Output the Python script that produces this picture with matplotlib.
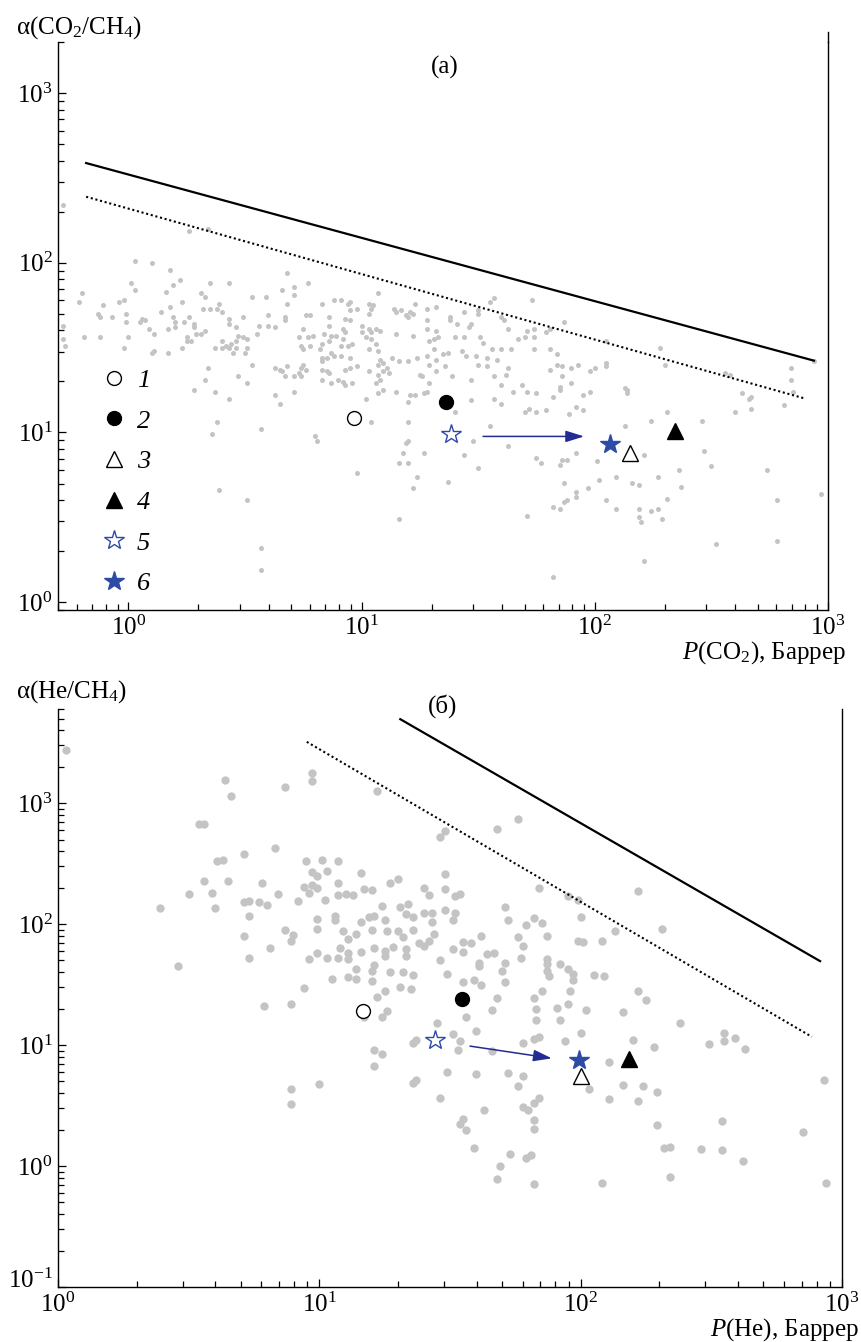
import numpy as np
import matplotlib
matplotlib.use('Agg')
import matplotlib.pyplot as plt
from matplotlib.lines import Line2D
from matplotlib.transforms import ScaledTranslation
from matplotlib.ticker import LogLocator, NullFormatter, LogFormatterMathtext

plt.rcParams['font.family'] = ['Liberation Serif', 'DejaVu Serif']
plt.rcParams['mathtext.fontset'] = 'custom'
plt.rcParams['mathtext.rm'] = 'Liberation Serif'
plt.rcParams['mathtext.it'] = 'Liberation Serif:italic'
plt.rcParams['mathtext.bf'] = 'Liberation Serif:bold'

# ---- data: literature points, (log10 P, log10 alpha) ----
co2_lit = np.array([
    (-0.28, 2.34), (0.26, 2.19), (0.34, 2.20),
    (0.03, 2.01), (0.10, 2.00), (0.18, 1.96), (0.22, 1.90), (0.19, 1.87), (0.16, 1.83), (0.01, 1.88),
    (0.03, 1.84), (-0.20, 1.82), (-0.21, 1.77), (-0.04, 1.77), (-0.02, 1.78), (-0.11, 1.75), (-0.13, 1.70),
    (-0.12, 1.68), (-0.07, 1.68), (-0.01, 1.70), (-0.01, 1.65), (0.06, 1.67), (0.07, 1.66), (0.05, 1.65),
    (0.09, 1.61), (0.11, 1.58), (0.14, 1.71), (0.18, 1.74), (0.23, 1.77), (0.19, 1.68), (0.24, 1.65),
    (0.26, 1.68), (0.20, 1.65), (0.17, 1.61), (0.20, 1.62), (0.28, 1.64), (0.28, 1.62), (0.29, 1.58),
    (0.25, 1.56), (0.27, 1.54), (0.31, 1.58), (0.33, 1.60), (0.31, 1.82), (0.33, 1.80), (0.35, 1.88),
    (0.43, 1.88), (0.32, 1.73), (0.35, 1.73), (0.38, 1.73), (0.39, 1.76), (0.40, 1.71), (0.43, 1.67),
    (0.43, 1.64), (0.46, 1.62), (0.49, 1.68), (0.53, 1.80), (0.59, 1.80), (0.47, 1.57), (0.49, 1.56),
    (0.51, 1.55), (0.46, 1.54), (0.44, 1.52), (0.42, 1.51), (0.40, 1.54), (0.37, 1.50), (0.40, 1.50),
    (0.43, 1.50), (0.46, 1.50), (0.45, 1.47), (0.50, 1.47), (0.51, 1.50), (0.55, 1.58), (0.56, 1.63),
    (0.60, 1.69), (0.60, 1.63), (0.63, 1.62), (0.67, 1.68), (0.67, 1.66), (0.68, 1.76), (0.66, 1.84),
    (0.71, 1.86), (0.71, 1.81), (0.68, 1.94), (0.77, 1.88), (0.76, 1.69), (0.78, 1.69), (0.75, 1.61),
    (0.73, 1.56), (0.77, 1.56), (0.79, 1.57), (0.74, 1.51), (0.75, 1.49), (0.78, 1.51), (0.83, 1.76),
    (0.88, 1.78), (0.91, 1.78), (0.94, 1.76), (0.95, 1.77), (0.98, 1.73), (0.95, 1.72), (0.86, 1.68),
    (0.93, 1.67), (0.95, 1.66), (0.86, 1.63), (0.84, 1.58), (0.87, 1.57), (0.89, 1.57), (0.92, 1.61),
    (0.93, 1.59), (0.92, 1.55), (0.96, 1.52), (0.94, 1.51), (0.86, 1.54), (0.83, 1.52), (0.82, 1.49),
    (0.87, 1.47), (0.85, 1.44), (0.83, 1.44), (0.83, 1.42), (0.88, 1.45), (0.91, 1.45), (0.95, 1.44),
    (0.91, 1.51), (1.03, 1.76), (1.04, 1.73), (1.05, 1.75), (1.03, 1.70), (1.07, 1.82), (1.00, 1.63),
    (1.03, 1.61), (1.04, 1.59), (1.06, 1.61), (1.08, 1.60), (1.00, 1.59), (1.02, 1.56), (1.04, 1.55),
    (1.06, 1.52), (1.03, 1.49), (1.07, 1.48), (1.08, 1.43), (1.09, 1.41), (1.07, 1.40), (1.14, 1.73),
    (1.15, 1.71), (1.17, 1.72), (1.19, 1.69), (1.20, 1.68), (1.21, 1.71), (1.22, 1.70), (1.23, 1.76),
    (1.28, 1.73), (1.32, 1.74), (1.28, 1.66), (1.28, 1.61), (1.31, 1.55), (1.33, 1.56), (1.32, 1.60),
    (1.29, 1.54), (1.15, 1.58), (1.22, 1.57), (1.13, 1.44), (1.16, 1.42), (1.20, 1.42), (1.24, 1.44),
    (1.28, 1.45), (1.31, 1.49), (1.32, 1.43), (1.35, 1.46),
    (0.63, 1.38), (0.65, 1.37), (0.66, 1.36), (0.68, 1.39), (0.67, 1.33), (0.71, 1.33), (0.73, 1.35),
    (0.74, 1.38), (0.76, 1.37), (0.74, 1.33), (0.75, 1.40), (0.83, 1.37), (0.85, 1.36), (0.86, 1.35),
    (0.83, 1.31), (0.87, 1.29), (0.90, 1.31), (0.92, 1.30), (0.93, 1.28), (0.96, 1.29), (0.93, 1.37),
    (0.95, 1.38), (0.98, 1.39), (1.03, 1.36), (1.07, 1.34), (1.09, 1.36), (1.11, 1.38), (1.12, 1.35),
    (1.08, 1.31), (1.06, 1.29), (1.09, 1.25), (1.15, 1.24), (1.21, 1.22), (1.23, 1.22), (1.27, 1.23),
    (1.28, 1.24), (1.25, 1.34), (1.26, 1.33), (1.29, 1.29), (1.32, 1.36), (1.29, 1.40), (1.36, 1.39),
    (0.34, 1.38), (0.33, 1.31), (0.28, 1.25), (0.37, 1.24), (0.43, 1.20), (0.47, 1.33), (0.51, 1.29),
    (0.53, 1.40), (0.63, 1.22), (0.65, 1.17), (0.71, 1.24), (1.02, 1.20), (1.07, 1.23), (1.20, 1.18),
    (-0.28, 1.63), (-0.28, 1.55), (-0.27, 1.51), (-0.19, 1.56), (-0.12, 1.56), (-0.02, 1.50), (0.00, 1.56),
    (0.10, 1.47), (0.11, 1.48), (0.17, 1.47), (0.23, 1.50), (0.25, 1.54),
    (0.38, 1.06), (0.36, 0.99), (0.57, 1.02), (0.80, 0.98), (0.81, 0.95), (1.04, 1.06), (0.98, 0.76),
    (1.20, 1.06), (1.20, 0.95), (1.19, 0.94), (1.18, 0.88), (1.16, 0.82), (1.20, 0.82), (1.24, 0.74),
    (1.22, 0.67), (1.27, 0.88), (1.16, 0.49), (0.39, 0.66), (0.51, 0.60), (0.57, 0.32), (0.57, 0.19),
    (1.38, 1.68), (1.38, 1.66), (1.41, 1.64), (1.44, 1.71), (1.46, 1.62), (1.47, 1.64), (1.50, 1.72),
    (1.50, 1.70), (1.55, 1.77), (1.57, 1.79), (1.73, 1.78), (1.61, 1.66), (1.63, 1.61), (1.60, 1.68),
    (1.67, 1.55), (1.70, 1.56), (1.71, 1.60), (1.74, 1.61), (1.74, 1.56), (1.79, 1.59), (1.81, 1.61),
    (1.87, 1.65), (2.05, 1.54), (2.28, 1.50), (2.30, 1.40), (1.40, 1.56), (1.44, 1.56), (1.51, 1.56),
    (1.52, 1.53), (1.37, 1.47), (1.43, 1.48), (1.45, 1.45), (1.49, 1.45), (1.54, 1.44), (1.56, 1.49),
    (1.58, 1.43), (1.60, 1.49), (1.64, 1.49), (1.74, 1.49), (1.81, 1.49), (1.84, 1.46), (1.50, 1.40),
    (1.54, 1.39), (1.63, 1.38), (1.39, 1.33), (1.47, 1.31), (1.57, 1.33), (1.62, 1.34), (1.81, 1.37),
    (1.84, 1.40), (1.86, 1.39), (1.90, 1.38), (1.93, 1.40), (1.98, 1.36), (2.00, 1.38), (2.05, 1.41),
    (2.05, 1.39), (1.86, 1.33), (1.90, 1.29), (1.60, 1.28), (1.69, 1.28), (1.65, 1.24), (1.71, 1.24),
    (1.75, 1.23), (1.82, 1.21), (1.85, 1.27), (1.85, 1.25), (1.95, 1.22), (1.98, 1.24), (2.13, 1.26),
    (2.14, 1.25), (2.14, 1.23), (2.63, 1.23), (2.66, 1.20), (2.67, 1.21), (2.56, 1.35), (2.58, 1.34),
    (2.84, 1.38), (2.84, 1.31), (2.85, 1.24), (2.94, 1.42), (1.47, 1.19), (1.57, 1.20), (1.60, 1.17),
    (1.72, 1.14), (1.70, 1.12), (1.75, 1.12), (1.79, 1.13), (1.92, 1.15), (1.95, 1.13), (1.89, 1.11),
    (1.40, 1.12), (2.67, 1.14), (2.81, 1.16), (2.60, 1.12), (2.31, 1.12),
    (1.55, 1.04), (1.48, 0.95), (1.44, 0.87), (1.50, 0.79), (1.63, 0.92), (1.37, 0.71), (1.75, 0.85),
    (1.77, 0.82), (1.85, 0.81), (1.86, 0.84), (1.88, 0.84), (1.92, 0.88), (2.01, 0.83), (2.02, 0.72),
    (2.09, 0.74), (2.16, 0.70), (2.19, 0.69), (2.21, 0.87), (2.13, 1.04), (2.24, 1.07), (2.46, 1.07),
    (2.47, 0.89), (2.50, 0.80), (2.36, 0.78), (2.37, 0.68), (2.31, 0.61), (2.27, 0.74), (2.05, 0.60),
    (2.09, 0.55), (2.19, 0.55), (2.24, 0.54), (2.27, 0.55), (2.29, 0.49), (2.19, 0.50), (2.20, 0.47),
    (1.87, 0.70), (1.92, 0.65), (1.92, 0.62), (1.97, 0.67), (1.87, 0.59), (1.88, 0.60), (1.85, 0.55),
    (1.82, 0.56), (1.71, 0.51), (1.82, 0.15), (2.21, 0.24), (2.52, 0.34), (2.78, 0.36), (2.78, 0.60),
    (2.97, 0.64), (2.74, 0.78),
])

he_lit = np.array([
    (0.03, 3.44),
    (0.64, 3.19), (0.66, 3.06), (0.87, 3.13), (0.97, 3.25), (0.97, 3.18), (1.22, 3.10), (1.46, 2.72),
    (1.48, 2.77), (0.54, 2.83), (0.56, 2.83), (0.83, 2.63), (0.71, 2.58), (0.61, 2.52), (0.63, 2.53),
    (0.95, 2.52), (1.01, 2.53), (1.07, 2.52), (0.97, 2.43), (0.99, 2.40), (1.03, 2.44), (1.16, 2.42),
    (1.27, 2.34), (1.30, 2.37), (1.48, 2.41), (1.40, 2.30), (1.42, 2.24), (1.48, 2.29), (0.56, 2.36),
    (0.65, 2.36), (0.78, 2.34), (0.50, 2.25), (0.59, 2.26), (0.60, 2.13), (0.39, 2.13), (0.71, 2.18),
    (0.73, 2.19), (0.77, 2.18), (0.80, 2.16), (0.84, 2.25), (0.92, 2.19), (0.94, 2.31), (0.97, 2.32),
    (0.99, 2.30), (0.96, 2.26), (1.02, 2.20), (1.07, 2.34), (1.07, 2.24), (1.10, 2.25), (1.13, 2.24),
    (1.17, 2.29), (1.20, 2.28), (1.24, 2.15), (1.31, 2.14), (1.34, 2.17), (1.33, 2.08), (1.36, 2.06),
    (1.40, 2.09), (1.43, 2.09), (1.43, 2.02), (1.48, 2.12), (1.44, 1.92), (1.36, 1.95), (1.30, 1.94),
    (1.32, 1.89), (1.38, 1.84), (1.40, 1.82), (1.42, 1.86), (1.28, 1.81), (1.26, 1.94), (1.25, 2.03),
    (1.21, 2.07), (1.19, 2.06), (1.16, 2.02), (1.14, 1.92), (1.20, 1.95), (1.11, 1.88), (1.09, 1.94),
    (1.06, 2.07), (1.06, 2.03), (0.99, 2.04), (0.99, 1.96), (0.87, 1.95), (0.90, 1.91), (0.89, 1.86),
    (0.71, 1.90), (0.73, 2.07), (0.81, 1.80), (0.73, 1.72), (0.46, 1.65), (0.96, 1.71), (0.99, 1.76),
    (1.03, 1.72), (1.07, 1.72), (1.08, 1.80), (1.11, 1.76), (1.11, 1.71), (1.16, 1.77), (1.21, 1.80),
    (1.25, 1.78), (1.25, 1.74), (1.33, 1.79), (1.33, 1.74), (1.46, 1.70), (1.49, 1.59), (1.14, 1.63),
    (1.14, 1.55), (1.11, 1.56), (1.05, 1.55), (1.21, 1.66), (1.20, 1.61), (1.20, 1.53), (1.27, 1.60),
    (1.32, 1.60), (1.36, 1.58), (1.31, 1.48), (1.35, 1.46), (0.94, 1.47), (1.22, 1.40), (1.25, 1.45),
    (1.68, 2.79), (1.76, 2.87), (1.84, 2.30), (1.95, 2.23), (1.99, 2.20), (2.00, 2.06), (2.22, 2.27),
    (2.31, 1.96), (2.13, 1.94), (2.08, 1.86), (1.99, 1.86), (2.01, 1.85), (1.87, 1.90), (1.85, 2.01),
    (1.82, 2.05), (1.79, 1.99), (1.72, 2.03), (1.71, 2.14), (1.62, 1.90), (1.76, 1.89), (1.78, 1.82),
    (1.77, 1.72), (1.87, 1.71), (1.87, 1.67), (1.92, 1.67), (1.95, 1.63), (1.97, 1.59), (1.97, 1.54),
    (1.87, 1.61), (1.88, 1.57), (1.71, 1.68), (1.70, 1.61), (1.71, 1.52), (1.67, 1.76), (1.64, 1.75),
    (1.61, 1.68), (1.61, 1.65), (1.58, 1.84), (1.55, 1.85), (1.55, 1.77), (1.51, 1.79), (1.52, 2.09),
    (1.54, 2.25), (1.52, 2.23), (1.51, 2.03), (1.59, 1.54), (1.62, 1.50), (1.55, 1.52), (2.05, 1.58),
    (2.09, 1.57), (2.22, 1.45), (2.25, 1.37), (1.96, 1.45), (1.85, 1.45), (1.82, 1.39), (1.68, 1.39),
    (0.79, 1.32), (0.89, 1.34), (1.17, 1.23), (1.24, 1.23), (1.26, 1.28), (1.36, 1.02), (1.37, 1.04),
    (1.21, 0.96), (1.24, 0.93), (1.21, 0.83), (1.00, 0.68), (0.89, 0.64), (0.89, 0.51), (1.36, 0.69),
    (1.37, 0.71),
    (1.56, 1.23), (1.45, 1.18), (1.51, 1.09), (1.54, 1.03), (1.53, 0.96), (1.60, 1.12), (1.66, 1.29),
    (1.66, 0.95), (1.49, 0.78), (1.60, 0.76), (1.72, 0.77), (1.78, 0.74), (1.76, 0.66), (1.78, 1.02),
    (1.82, 1.05), (1.84, 1.07), (1.83, 1.21), (1.83, 1.30), (1.91, 1.31), (1.92, 1.21), (1.95, 1.34),
    (2.02, 1.29), (1.94, 1.03), (2.00, 1.10), (2.16, 1.27), (2.20, 1.04), (2.28, 0.98), (2.38, 1.18),
    (2.49, 1.01), (2.55, 1.10), (2.55, 1.03), (2.59, 1.06), (2.63, 0.97), (2.11, 0.86), (2.03, 0.64),
    (2.16, 0.67), (2.24, 0.66), (2.29, 0.61), (2.22, 0.54), (2.11, 0.55), (2.29, 0.34), (2.32, 0.15),
    (2.34, 0.16), (2.34, -0.09), (2.46, 0.14), (2.54, 0.13), (2.54, 0.37), (2.62, 0.04), (2.85, 0.28),
    (2.93, 0.71), (2.94, -0.14), (2.08, -0.14), (1.82, -0.15), (1.68, -0.11), (1.69, 0.00), (1.73, 0.10),
    (1.79, 0.07), (1.81, 0.09), (1.59, 0.15), (1.63, 0.46), (1.55, 0.39), (1.54, 0.35), (1.56, 0.30),
    (1.46, 0.56), (1.78, 0.49), (1.80, 0.46), (1.82, 0.38), (1.82, 0.31), (1.82, 0.52), (1.84, 0.56),
])

# upper bounds (solid) and older bounds (dotted)
co2_upper_P = [0.66, 870]
co2_upper_a = [387, 26.5]
co2_old_P = [0.66, 803]
co2_old_a = [245, 15.8]
he_upper_P = [20.4, 824]
he_upper_a = [4940, 49.4]
he_old_P = [8.95, 766]
he_old_a = [3210, 11.7]

# samples 1..6
sample_labels = ['1', '2', '3', '4', '5', '6']
co2_P = [9.3, 23.1, 141, 220, 24.3, 116]
co2_a = [12.2, 15.2, 7.6, 10.2, 9.8, 8.6]
he_P = [14.7, 35.1, 100, 153, 27.7, 98.6]
he_a = [19.1, 24.0, 5.5, 7.6, 11.1, 7.5]

co2_arrow_P = [33.2, 90]
co2_arrow_a = [9.48, 9.48]
he_arrow_P = [37.7, 77.5]
he_arrow_a = [9.8, 7.77]

BLUE = '#2d4aa6'
ARROW = '#232c92'
GRAY = '#c4c4c4'
FS = 18

styles = [
    dict(marker='o', mfc='white', mec='black', ms=10),
    dict(marker='o', mfc='black', mec='black', ms=10),
    dict(marker='^', mfc='white', mec='black', ms=11),
    dict(marker='^', mfc='black', mec='black', ms=11),
    dict(marker='*', mfc='white', mec=BLUE, ms=15),
    dict(marker='*', mfc=BLUE, mec=BLUE, ms=15),
]


def setup_axis(ax, xlim, ylim, xpad=4):
    ax.set_xscale('log')
    ax.set_yscale('log')
    ax.set_xlim(*xlim)
    ax.set_ylim(*ylim)
    ax.spines['top'].set_visible(False)
    for s in ['left', 'bottom', 'right']:
        ax.spines[s].set_linewidth(1.0)
    for axis in [ax.xaxis, ax.yaxis]:
        axis.set_major_locator(LogLocator(base=10, numticks=20))
        axis.set_minor_locator(LogLocator(base=10, subs=np.arange(2, 10), numticks=20))
        axis.set_major_formatter(LogFormatterMathtext())
        axis.set_minor_formatter(NullFormatter())
    ax.tick_params(which='both', direction='in', top=False, right=False, width=0.9,
                   labelsize=FS)
    ax.tick_params(which='major', length=6)
    ax.tick_params(which='minor', length=4)
    ax.tick_params(axis='x', pad=xpad)
    ax.tick_params(axis='y', pad=4)


def draw_panel(ax, lit, s, up_P, up_a, old_P, old_a, P, a, arr_P, arr_a):
    ax.scatter(10 ** lit[:, 0], 10 ** lit[:, 1], s=s, color=GRAY, lw=0, zorder=1)
    ax.plot(up_P, up_a, color='black', lw=1.6, zorder=2)
    ax.plot(old_P, old_a, color='black', lw=1.5, ls=(0, (1, 1.3)), zorder=2)
    ax.annotate('', xy=(arr_P[1], arr_a[1]), xytext=(arr_P[0], arr_a[0]),
                arrowprops=dict(arrowstyle='-|>,head_length=0.7,head_width=0.22',
                                color=ARROW, lw=1.1, shrinkA=0, shrinkB=0,
                                mutation_scale=16), zorder=3)
    for i in range(len(P)):
        ax.plot([P[i]], [a[i]], ls='none', mew=1.0, zorder=4, **styles[i])


fig = plt.figure(figsize=(8.61, 13.42), dpi=100)
ax1 = fig.add_axes([0.0674, 0.5455, 0.8943, 0.4232])
ax2 = fig.add_axes([0.0674, 0.0410, 0.9106, 0.4307])

setup_axis(ax1, (0.5, 1000), (0.9, 2000))
setup_axis(ax2, (1, 1000), (0.1, 6000), xpad=4)

draw_panel(ax1, co2_lit, 13, co2_upper_P, co2_upper_a, co2_old_P, co2_old_a,
           co2_P, co2_a, co2_arrow_P, co2_arrow_a)
draw_panel(ax2, he_lit, 36, he_upper_P, he_upper_a, he_old_P, he_old_a,
           he_P, he_a, he_arrow_P, he_arrow_a)

# lift the lowest y label of the bottom panel a bit so it clears the 10^0 x label
for tick, loc in zip(ax2.yaxis.get_major_ticks(), ax2.yaxis.get_majorticklocs()):
    if np.isclose(loc, 0.1):
        lbl = tick.label1
        lbl.set_transform(lbl.get_transform() + ScaledTranslation(0, 9 / 100, fig.dpi_scale_trans))

# right spine of the top panel runs a little higher
ax1.add_line(Line2D([1, 1], [1, 1.018], transform=ax1.transAxes, color='black',
                    lw=1.0, clip_on=False))

# legend (top panel)
handles = [Line2D([], [], ls='none', mew=1.0, **st) for st in styles]
leg = ax1.legend(handles, sample_labels, loc='upper left', bbox_to_anchor=(0.056, 0.425),
                 frameon=False, borderpad=0, borderaxespad=0, handlelength=1.0,
                 handletextpad=0.35, labelspacing=0.65,
                 prop={'family': 'Liberation Serif', 'style': 'italic', 'size': 19})

# labels
fig.text(16 / 861, 1 - 28 / 1342, r'α(CO$_2$/CH$_4$)', ha='left', va='center', fontsize=FS)
fig.text(16 / 861, 1 - 692 / 1342, r'α(He/CH$_4$)', ha='left', va='center', fontsize=FS)
fig.text(846 / 861, 1 - 653 / 1342, r'$P$(CO$_2$), Баррер', ha='right', va='center', fontsize=FS)
fig.text(859 / 861, 1 - 1330 / 1342, r'$P$(He), Баррер', ha='right', va='center', fontsize=FS)
fig.text(445 / 861, 1 - 67 / 1342, '(a)', ha='center', va='center', fontsize=FS)
fig.text(443 / 861, 1 - 706 / 1342, '(б)', ha='center', va='center', fontsize=FS)

fig.savefig('out.png', dpi=100)
